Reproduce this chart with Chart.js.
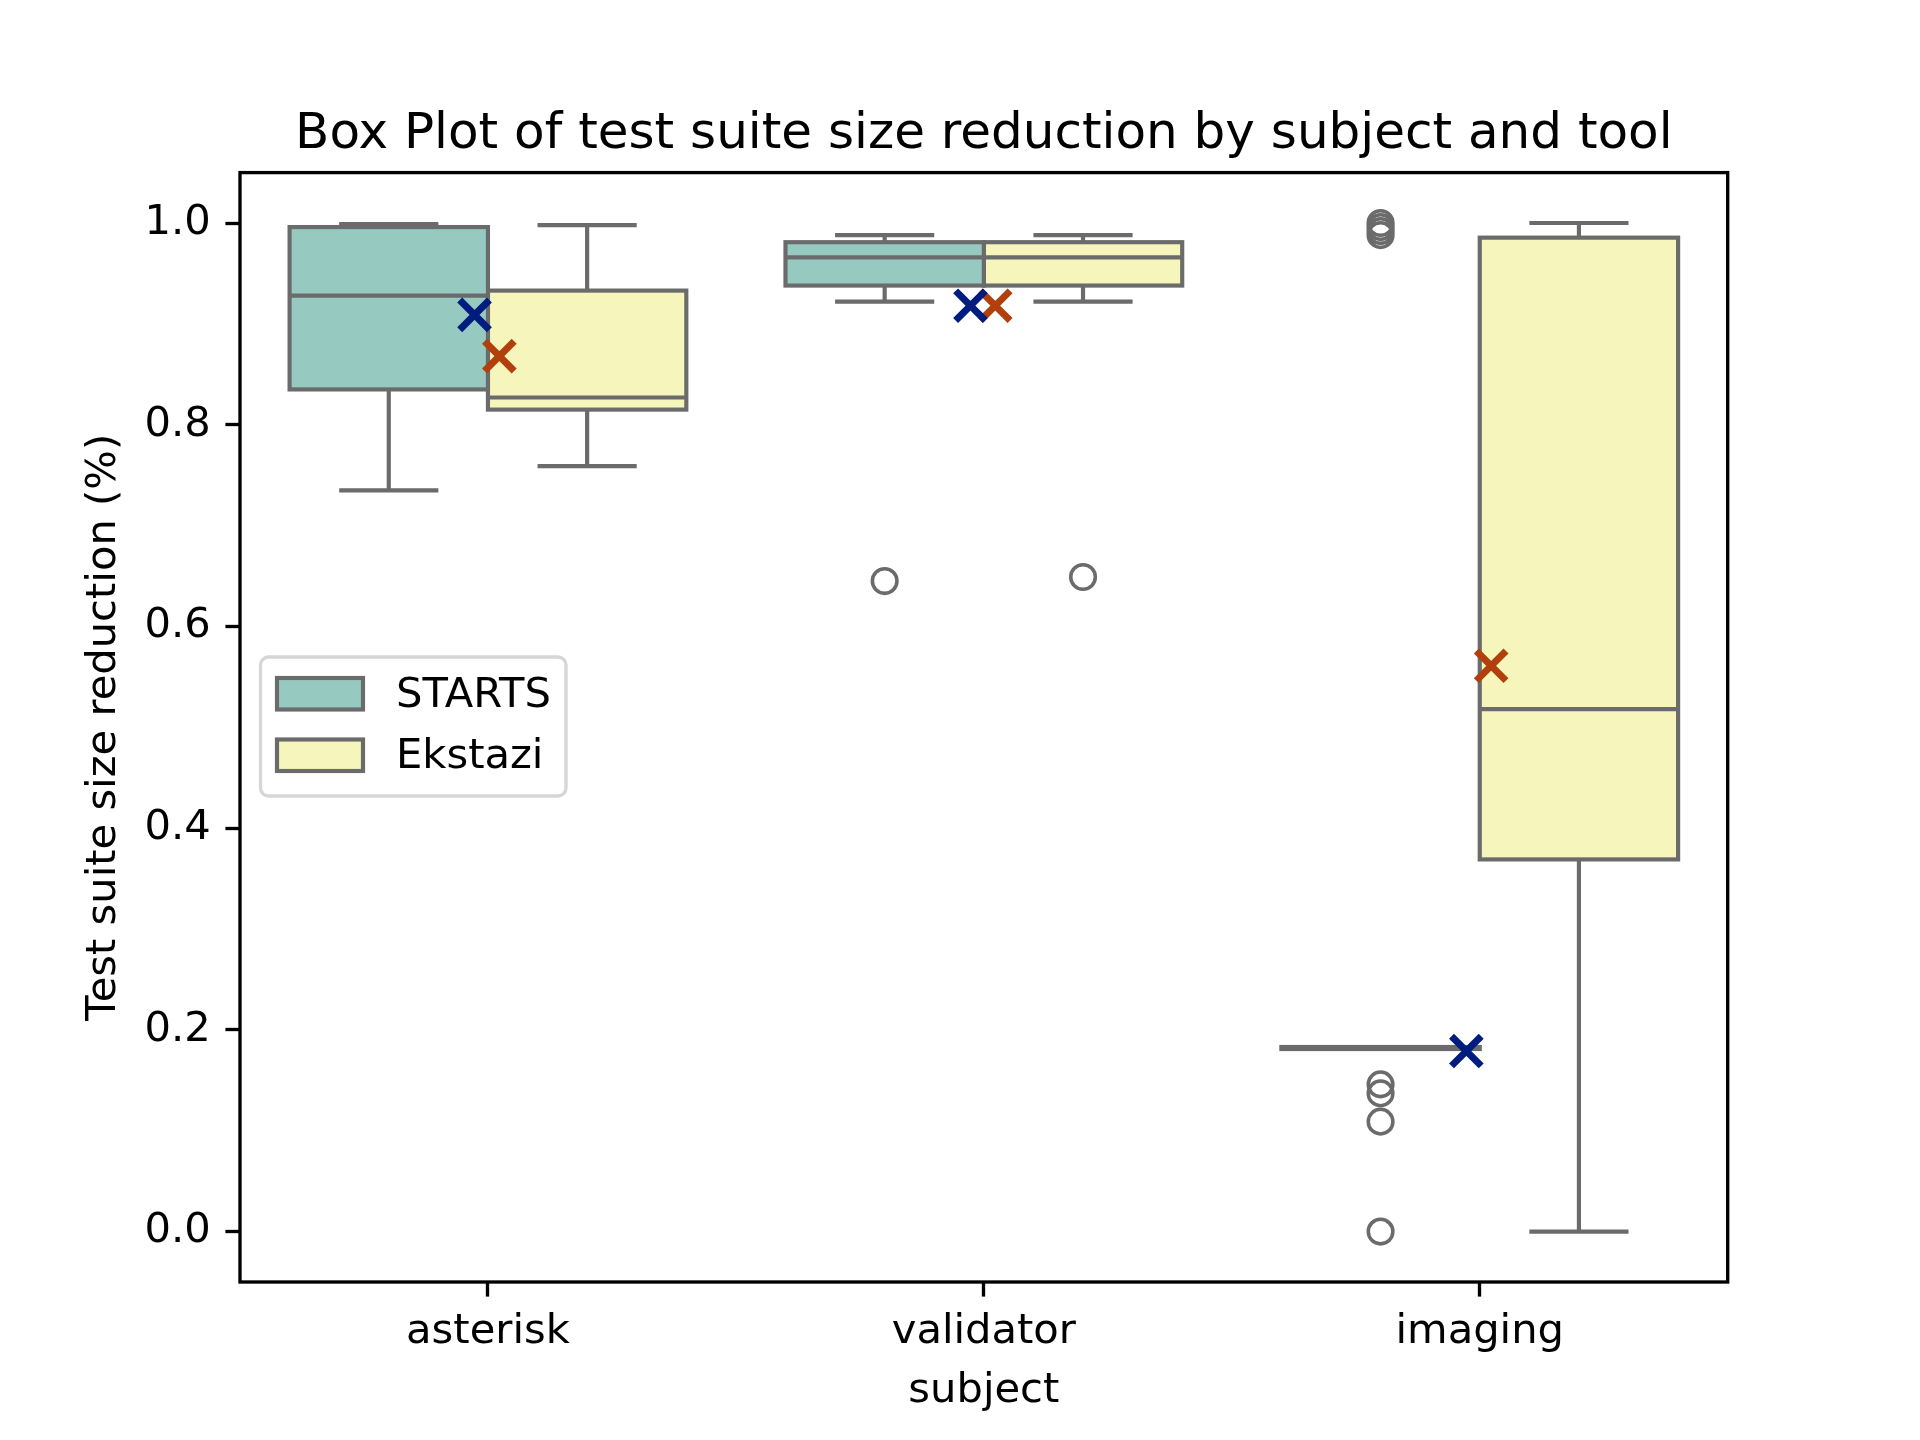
<!DOCTYPE html>
<html>
<head>
<meta charset="utf-8">
<script src="https://cdn.jsdelivr.net/npm/chart.js@4.4.1/dist/chart.umd.min.js"></script>
<style>
  html, body { margin: 0; padding: 0; background: #ffffff; }
  #wrap { width: 1920px; height: 1440px; }
</style>
</head>
<body>
<div id="wrap"><canvas id="c" width="1920" height="1440"></canvas></div>
<script>
// ---------------- data ----------------
const SUBJECTS = ['asterisk', 'validator', 'imaging'];
const TOOLS = ['STARTS', 'Ekstazi'];
const Y_TICKS = [0.0, 0.2, 0.4, 0.6, 0.8, 1.0];

const STARTS_WHISKER_LOW  = [0.735, 0.922, 0.181];
const STARTS_Q1           = [0.835, 0.938, 0.181];
const STARTS_MEDIAN       = [0.928, 0.966, 0.182];
const STARTS_Q3           = [0.996, 0.981, 0.183];
const STARTS_WHISKER_HIGH = [0.999, 0.988, 0.183];
const STARTS_MEAN         = [0.909, 0.918, 0.179];
const STARTS_OUTLIERS     = [[], [0.645], [1.0, 0.996, 0.992, 0.988, 0.146, 0.137, 0.109, 0.0]];

const EKSTAZI_WHISKER_LOW  = [0.759, 0.922, 0.0];
const EKSTAZI_Q1           = [0.815, 0.938, 0.369];
const EKSTAZI_MEDIAN       = [0.827, 0.966, 0.518];
const EKSTAZI_Q3           = [0.933, 0.981, 0.9855];
const EKSTAZI_WHISKER_HIGH = [0.998, 0.988, 1.0];
const EKSTAZI_MEAN         = [0.868, 0.918, 0.561];
const EKSTAZI_OUTLIERS     = [[], [0.649], []];

// ---------------- styles ----------------
const BOX_COLORS  = ['#96cac1', '#f6f6bc'];
const MEAN_COLORS = ['#001c7f', '#b1400d'];
const EDGE = '#6b6b6b';
const FONT = 'DejaVu Sans';
const PT = 300 / 72;
const BOX_DODGE  = [-0.2, 0.2];
const MEAN_DODGE = [-0.027, 0.023];

const stats = [
  { lo: STARTS_WHISKER_LOW, q1: STARTS_Q1, med: STARTS_MEDIAN, q3: STARTS_Q3, hi: STARTS_WHISKER_HIGH, mean: STARTS_MEAN, out: STARTS_OUTLIERS },
  { lo: EKSTAZI_WHISKER_LOW, q1: EKSTAZI_Q1, med: EKSTAZI_MEDIAN, q3: EKSTAZI_Q3, hi: EKSTAZI_WHISKER_HIGH, mean: EKSTAZI_MEAN, out: EKSTAZI_OUTLIERS }
];

const datasets = [];
TOOLS.forEach((tool, t) => {
  datasets.push({
    type: 'bar',
    label: tool,
    data: SUBJECTS.map((s, i) => ({ x: i + BOX_DODGE[t], y: [stats[t].q1[i], stats[t].q3[i]] })),
    xAxisID: 'xPos',
    grouped: false,
    backgroundColor: BOX_COLORS[t],
    borderWidth: 0,
    categoryPercentage: 1.0,
    barPercentage: 1.0,
    order: 3,
    toolIndex: t
  });
});
TOOLS.forEach((tool, t) => {
  const pts = [];
  SUBJECTS.forEach((s, i) => stats[t].out[i].forEach(v => pts.push({ x: i + BOX_DODGE[t], y: v })));
  datasets.push({
    type: 'scatter',
    label: tool + ' outliers',
    data: pts,
    xAxisID: 'xPos',
    pointStyle: 'circle',
    pointRadius: 12.3,
    pointBorderWidth: 0.85 * PT,
    pointBorderColor: EDGE,
    pointBackgroundColor: 'rgba(0,0,0,0)',
    order: 2
  });
});
TOOLS.forEach((tool, t) => {
  datasets.push({
    type: 'scatter',
    label: tool + ' mean',
    data: SUBJECTS.map((s, i) => ({ x: i + MEAN_DODGE[t], y: stats[t].mean[i] })),
    xAxisID: 'xPos',
    pointStyle: 'crossRot',
    pointRadius: 21,
    pointBorderWidth: 7,
    pointBorderColor: MEAN_COLORS[t],
    pointBackgroundColor: MEAN_COLORS[t],
    order: 1
  });
});

// ---------------- plugins ----------------
const boxPlugin = {
  id: 'boxParts',
  afterDatasetDraw(chart, args) {
    const ds = chart.data.datasets[args.index];
    if (ds.type !== 'bar') return;
    const t = ds.toolIndex;
    const y = chart.scales.y;
    const ctx = chart.ctx;
    ctx.save();
    ctx.strokeStyle = EDGE;
    ctx.lineWidth = 1.0 * PT;
    ctx.lineCap = 'butt';
    ctx.lineJoin = 'miter';
    args.meta.data.forEach((el, i) => {
      const cx = el.x, w = el.width;
      const pq1 = y.getPixelForValue(stats[t].q1[i]);
      const pq3 = y.getPixelForValue(stats[t].q3[i]);
      const plo = y.getPixelForValue(stats[t].lo[i]);
      const phi = y.getPixelForValue(stats[t].hi[i]);
      const pmed = y.getPixelForValue(stats[t].med[i]);
      ctx.beginPath();
      ctx.moveTo(cx, pq1); ctx.lineTo(cx, plo);
      ctx.moveTo(cx, pq3); ctx.lineTo(cx, phi);
      ctx.moveTo(cx - w / 4, plo); ctx.lineTo(cx + w / 4, plo);
      ctx.moveTo(cx - w / 4, phi); ctx.lineTo(cx + w / 4, phi);
      ctx.stroke();
      ctx.strokeRect(cx - w / 2, pq3, w, pq1 - pq3);
      ctx.beginPath();
      ctx.moveTo(cx - w / 2, pmed); ctx.lineTo(cx + w / 2, pmed);
      ctx.stroke();
    });
    ctx.restore();
  },
  afterDraw(chart) {
    const ctx = chart.ctx;
    const a = chart.chartArea;
    ctx.save();
    ctx.strokeStyle = '#000';
    ctx.lineWidth = 0.8 * PT;
    ctx.strokeRect(a.left, a.top, a.right - a.left, a.bottom - a.top);
    // legend
    const lx = 260.5, ly = 657, lw = 305.5, lh = 139, r = 8;
    ctx.beginPath();
    ctx.moveTo(lx + r, ly);
    ctx.arcTo(lx + lw, ly, lx + lw, ly + lh, r);
    ctx.arcTo(lx + lw, ly + lh, lx, ly + lh, r);
    ctx.arcTo(lx, ly + lh, lx, ly, r);
    ctx.arcTo(lx, ly, lx + lw, ly, r);
    ctx.closePath();
    ctx.fillStyle = 'rgba(255,255,255,0.8)';
    ctx.fill();
    ctx.strokeStyle = '#d6d6d6';
    ctx.lineWidth = 0.8 * PT;
    ctx.stroke();
    TOOLS.forEach((tool, t) => {
      const py = 678 + t * 61.5;
      ctx.fillStyle = BOX_COLORS[t];
      ctx.fillRect(277, py, 86, 31.5);
      ctx.strokeStyle = EDGE;
      ctx.lineWidth = 1.0 * PT;
      ctx.strokeRect(277, py, 86, 31.5);
      ctx.fillStyle = '#000';
      ctx.font = (10 * PT).toFixed(2) + 'px "' + FONT + '"';
      ctx.textBaseline = 'middle';
      ctx.textAlign = 'left';
      ctx.fillText(tool, 396, py + 18);
    });
    ctx.restore();
  }
};

// ---------------- chart ----------------
Chart.defaults.font.family = FONT;
Chart.defaults.color = '#000';

new Chart(document.getElementById('c'), {
  type: 'bar',
  data: { labels: SUBJECTS, datasets },
  options: {
    responsive: false,
    animation: false,
    devicePixelRatio: 1,
    layout: { padding: { left: 0, right: 192.3, top: 0, bottom: 0 } },
    plugins: {
      legend: { display: false },
      tooltip: { enabled: false },
      title: {
        display: true,
        fullSize: false,
        text: 'Box Plot of test suite size reduction by subject and tool',
        color: '#000',
        font: { family: FONT, size: 12 * PT, weight: 'normal', lineHeight: 1.2 },
        padding: { top: 105, bottom: 7.6 }
      }
    },
    scales: {
      x: {
        type: 'category',
        offset: true,
        grid: { offset: false, drawOnChartArea: false, drawTicks: true, tickLength: 3.5 * PT, tickWidth: 0.8 * PT, tickColor: '#000' },
        border: { display: false },
        ticks: { color: '#000', font: { family: FONT, size: 10 * PT, lineHeight: 1.2 }, padding: 11, maxRotation: 0 },
        title: { display: true, text: 'subject', color: '#000', font: { family: FONT, size: 10 * PT, lineHeight: 1.2 }, padding: { top: 0, bottom: 24 } },
        afterFit: s => { s.height = 158; }
      },
      xPos: {
        type: 'linear',
        display: false,
        min: -0.5,
        max: 2.5,
        offset: false,
        afterBuildTicks: s => { s.ticks = SUBJECTS.map((c, i) => ({ value: i })); }
      },
      y: {
        type: 'linear',
        min: -0.05,
        max: 1.05,
        afterBuildTicks: s => { s.ticks = Y_TICKS.map(v => ({ value: v })); },
        grid: { drawOnChartArea: false, drawTicks: true, tickLength: 3.5 * PT, tickWidth: 0.8 * PT, tickColor: '#000' },
        border: { display: false },
        ticks: { color: '#000', font: { family: FONT, size: 10 * PT, lineHeight: 1.2 }, padding: 3.5 * PT, callback: v => Number(v).toFixed(1) },
        title: { display: true, text: 'Test suite size reduction (%)', color: '#000', font: { family: FONT, size: 10 * PT, lineHeight: 1.2 }, padding: { top: 79, bottom: 0 } },
        afterFit: s => { s.width = 240; }
      }
    }
  },
  plugins: [boxPlugin]
});
</script>
</body>
</html>
